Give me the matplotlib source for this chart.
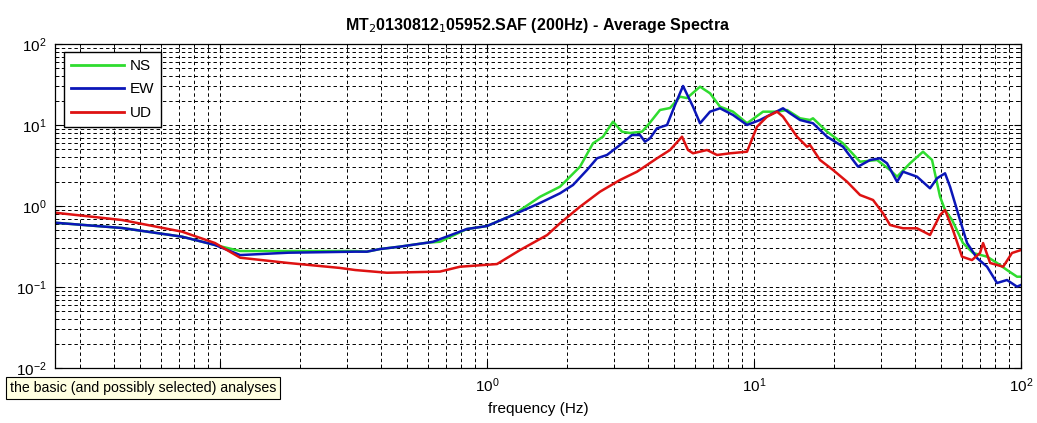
import matplotlib
matplotlib.use("Agg")
import matplotlib.pyplot as plt
from matplotlib.ticker import (LogLocator, NullFormatter, FuncFormatter,
                               LogFormatterSciNotation)

plt.rcParams['font.family'] = ['Liberation Sans', 'DejaVu Sans']

# Average spectra of the three components (frequency in Hz, amplitude)
ns_freq = [0.0241, 0.043, 0.0721, 0.0958, 0.119, 0.18, 0.321, 0.355, 0.397, 0.472,
           0.596, 0.667, 0.841, 1.0, 1.25, 1.58, 1.877, 2.23, 2.495, 2.719, 2.964,
           3.203, 3.432, 3.806, 4.009, 4.445, 4.847, 5.283, 5.61, 6.279, 6.843,
           7.46, 8.344, 9.414, 10.81, 12.20, 13.30, 14.87, 16.21, 16.63, 18.77,
           21.54, 24.95, 28.89, 32.32, 34.33, 38.40, 42.95, 46.42, 49.74, 51.93,
           55.2, 60.6, 66.1, 74.6, 81.3, 88.6, 96.6, 100.0]
ns_vals = [0.622, 0.535, 0.418, 0.330, 0.278, 0.278, 0.278, 0.273, 0.294, 0.315,
           0.352, 0.362, 0.520, 0.566, 0.774, 1.30, 1.731, 3.057, 5.944, 7.171, 10.98,
           8.268, 7.963, 8.268, 10.0, 15.32, 16.21, 22.36, 21.5, 29.71, 24.63,
           16.82, 14.60, 10.50, 14.60, 14.60, 15.32, 12.10, 11.53, 12.10, 8.268,
           5.944, 3.524, 3.698, 2.783, 2.300, 3.367, 4.681, 3.698, 1.303, 0.892,
           0.671, 0.349, 0.263, 0.237, 0.198, 0.162, 0.134, 0.134]

ew_freq = [0.0241, 0.043, 0.0721, 0.0958, 0.119, 0.18, 0.321, 0.355, 0.397, 0.472,
           0.596, 0.628, 0.841, 1.0, 1.25, 1.58, 1.877, 2.099, 2.369, 2.582, 2.814,
           3.148, 3.492, 3.741, 3.906, 4.079, 4.332, 4.724, 5.06, 5.422, 5.909,
           6.279, 6.843, 7.46, 8.344, 9.414, 10.53, 11.78, 12.84, 13.64, 14.87,
           16.63, 18.77, 21.54, 24.52, 27.20, 29.65, 31.49, 34.33, 36.15, 40.79,
           45.62, 48.46, 51.93, 54.22, 59.1, 62.8, 68.4, 74.6, 81.3, 88.6, 96.6,
           100.0]
ew_vals = [0.622, 0.535, 0.418, 0.330, 0.248, 0.265, 0.273, 0.273, 0.294, 0.315,
           0.352, 0.362, 0.520, 0.566, 0.774, 1.09, 1.435, 1.816, 2.783, 3.880, 4.263,
           5.663, 7.524, 7.524, 6.221, 6.851, 9.106, 10.0, 17.66, 30.30, 16.82,
           10.50, 14.60, 16.08, 13.29, 10.0, 11.53, 13.94, 16.08, 13.94, 11.53,
           10.50, 7.171, 5.396, 3.057, 3.698, 3.880, 3.367, 1.995, 2.651, 2.300,
           1.654, 2.198, 2.533, 1.731, 0.671, 0.349, 0.228, 0.178, 0.112, 0.122, 0.101,
           0.106]

ud_freq = [0.0241, 0.043, 0.0721, 0.0958, 0.119, 0.18, 0.281, 0.321, 0.422, 0.667,
           0.792, 1.09, 1.33, 1.68, 1.877, 2.23, 2.65, 3.148, 3.646, 4.332, 4.847,
           5.375, 5.66, 5.909, 6.668, 7.269, 8.131, 9.414, 10.26, 11.19, 12.20,
           12.84, 13.64, 14.49, 15.79, 16.21, 17.67, 19.77, 22.30, 24.95, 27.91,
           30.42, 32.32, 36.15, 40.79, 45.62, 49.74, 51.93, 55.6, 60.1, 65.5, 70.2,
           72.1, 76.6, 85.7, 92.5, 100.0]
ud_vals = [0.827, 0.671, 0.482, 0.349, 0.230, 0.198, 0.172, 0.162, 0.150, 0.155,
           0.178, 0.192, 0.286, 0.438, 0.612, 0.980, 1.502, 2.094, 2.651, 3.880, 4.913,
           7.171, 4.913, 4.474, 4.913, 4.263, 4.474, 4.681, 9.528, 12.66, 14.60,
           12.66, 9.528, 7.171, 5.396, 5.663, 3.698, 2.783, 1.995, 1.367, 1.186,
           0.8125, 0.5823, 0.5305, 0.5305, 0.4385, 0.7743, 0.892, 0.505, 0.237, 0.215,
           0.263, 0.349, 0.198, 0.178, 0.263, 0.286]

labels = ['NS', 'EW', 'UD']
colors = ['#2fdc2f', '#0b16b8', '#de1212']
hidden_xtick = 0.1   # label sits beneath the tooltip

fig = plt.figure(figsize=(10.37, 4.23), dpi=100)
ax = fig.add_axes([0.053, 0.130, 0.9316, 0.766])

for fr, vals, lab, col in zip([ns_freq, ew_freq, ud_freq],
                              [ns_vals, ew_vals, ud_vals], labels, colors):
    ax.plot(fr, vals, color=col, lw=1.8, label=lab)

ax.set_xscale('log')
ax.set_yscale('log')
ax.set_xlim(0.0241, 100)
ax.set_ylim(1e-2, 1e2)

sci = LogFormatterSciNotation()
ax.xaxis.set_major_locator(LogLocator(base=10, numticks=10))
ax.xaxis.set_minor_locator(LogLocator(base=10, subs=range(2, 10), numticks=20))
ax.yaxis.set_major_locator(LogLocator(base=10, numticks=10))
ax.yaxis.set_minor_locator(LogLocator(base=10, subs=range(2, 10), numticks=20))
ax.xaxis.set_major_formatter(FuncFormatter(
    lambda v, p: '' if abs(v - hidden_xtick) < 1e-9 else sci(v, p)))
ax.xaxis.set_minor_formatter(NullFormatter())
ax.yaxis.set_minor_formatter(NullFormatter())

grid_style = dict(color='black', linestyle=(0, (3.5, 3)), linewidth=0.7)
ax.grid(True, which='major', **grid_style)
ax.grid(True, which='minor', **grid_style)

ax.tick_params(which='both', direction='in', top=True, right=True,
               labelsize=11, colors='black', pad=6)
ax.tick_params(which='major', length=5)
ax.tick_params(which='minor', length=3)
for s in ax.spines.values():
    s.set_linewidth(0.9)

ax.set_xlabel('frequency (Hz)', fontsize=11, labelpad=5)
ax.set_title(r'MT$_2$0130812$_1$05952.SAF (200Hz) - Average Spectra',
             fontsize=11.5, fontweight='bold', pad=10)

leg = ax.legend(loc='upper left', bbox_to_anchor=(0.0093, 0.975), fontsize=11,
                frameon=True, fancybox=False, edgecolor='black', framealpha=1,
                handlelength=3.5, handletextpad=0.35, borderpad=0.45,
                labelspacing=0.62, borderaxespad=0)
leg.get_frame().set_linewidth(1.0)
for line in leg.get_lines():
    line.set_linewidth(2.0)

fig.text(0.0095, 0.0825, 'the basic (and possibly selected) analyses',
         fontsize=10.2, va='center', ha='left', zorder=10,
         bbox=dict(boxstyle='square,pad=0.3', facecolor='#ffffe1',
                   edgecolor='black', linewidth=0.8))

fig.savefig('out.png', dpi=100, facecolor='white')
